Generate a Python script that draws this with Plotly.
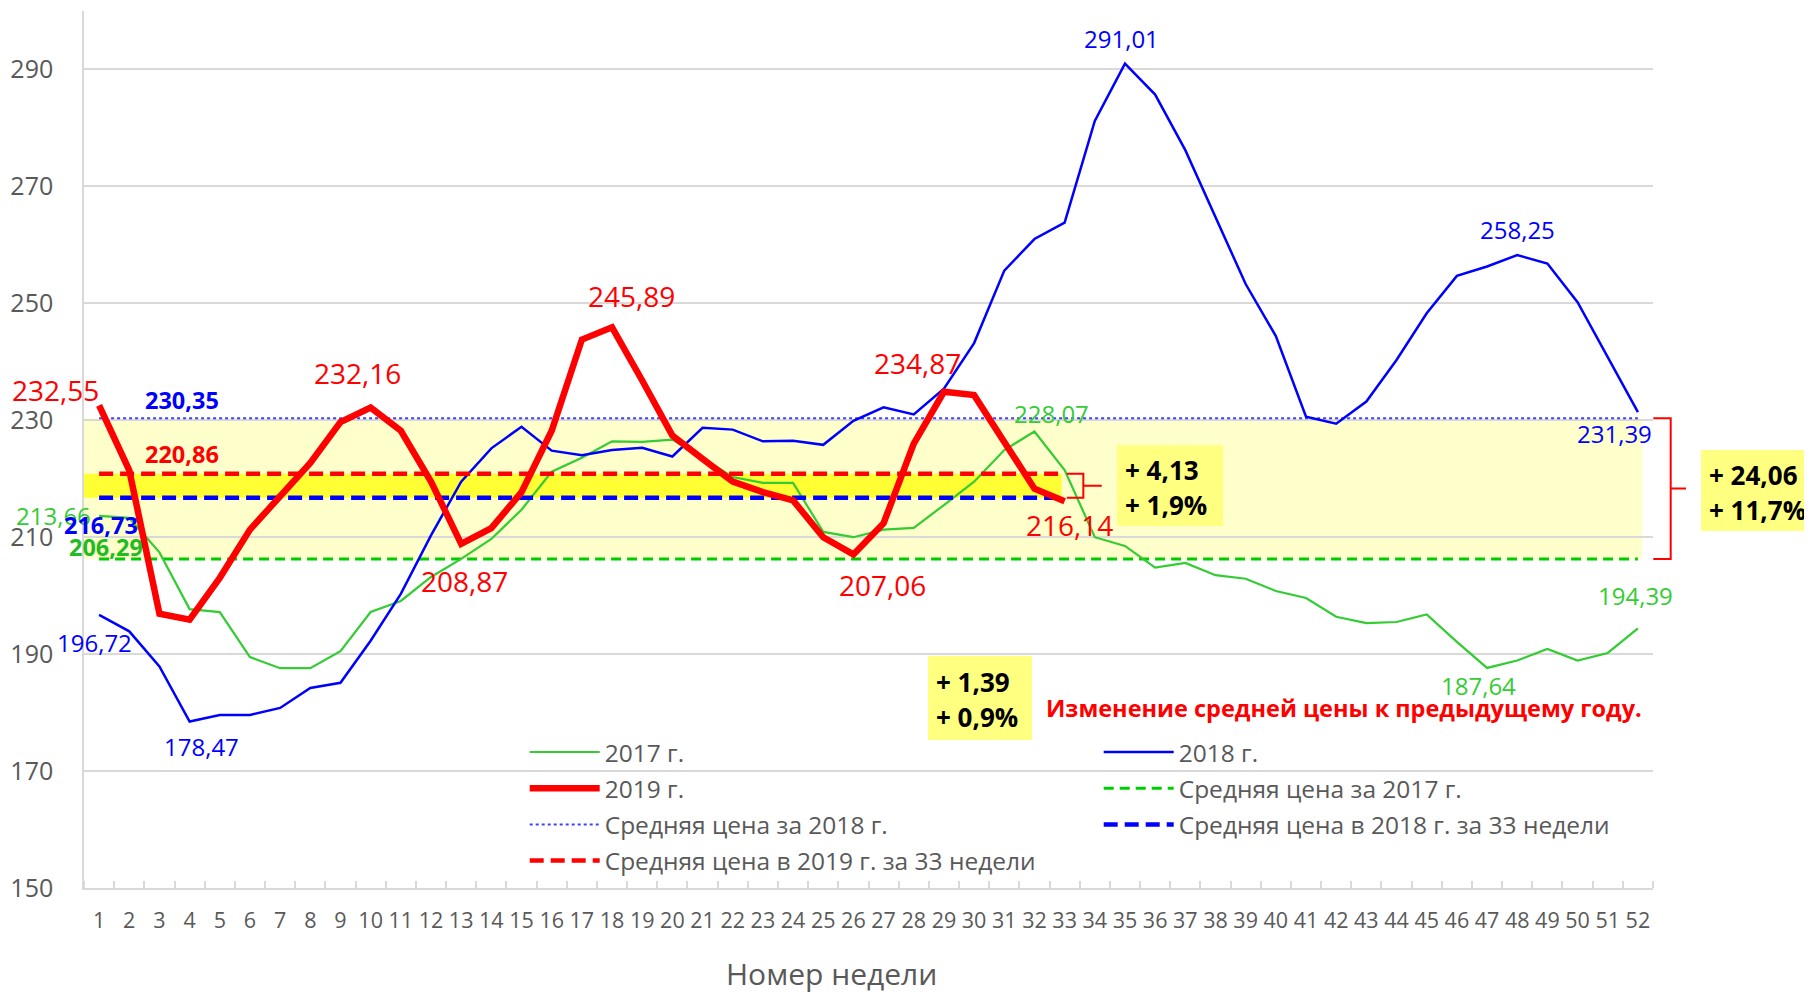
import plotly.graph_objects as go

# ---------------- data ----------------
weeks = list(range(1, 53))
weeks_2019 = list(range(1, 34))

price_2017 = [213.66, 213.3, 207.4, 197.7, 197.2, 189.5, 187.6, 187.6, 190.5, 197.2,
              199.1, 203.2, 206.3, 209.7, 214.7, 221.2, 223.6, 226.4, 226.3, 226.7,
              223.5, 220.3, 219.3, 219.3, 210.9, 210.0, 211.3, 211.6, 215.5, 219.5,
              224.9, 228.07, 221.5, 210.0, 208.5, 204.8, 205.6, 203.5, 202.9, 200.8,
              199.6, 196.4, 195.3, 195.5, 196.8, 192.1, 187.64, 188.9, 190.9, 188.9,
              190.2, 194.39]
price_2018 = [196.72, 193.9, 187.9, 178.47, 179.6, 179.6, 180.8, 184.2, 185.1, 192.3,
              200.3, 210.3, 219.5, 225.2, 228.9, 224.8, 224.0, 224.9, 225.3, 223.8,
              228.7, 228.4, 226.4, 226.5, 225.8, 229.9, 232.2, 231.0, 235.4, 243.2,
              255.6, 261.0, 263.8, 281.2, 291.01, 285.7, 276.2, 264.8, 253.3, 244.4,
              230.6, 229.4, 233.2, 240.3, 248.3, 254.7, 256.3, 258.25, 256.8, 250.2,
              240.7, 231.39]
price_2019 = [232.55, 221.45, 196.9, 195.9, 203.05, 211.3, 217.0, 222.7, 229.7, 232.16,
              228.2, 219.5, 208.87, 211.55, 217.7, 228.2, 243.8, 245.89, 236.8, 227.4,
              223.4, 219.5, 217.7, 216.3, 210.0, 207.06, 212.4, 226.0, 234.87, 234.3,
              226.3, 218.3, 216.14]

avg_2017 = 206.29
avg_2018 = 230.35
avg_2018_33 = 216.73
avg_2019_33 = 220.86

names = ["2017 г.", "2018 г.", "2019 г.", "Средняя цена за 2017 г.",
         "Средняя цена за 2018 г.", "Средняя цена в 2018 г. за 33 недели",
         "Средняя цена в 2019 г. за 33 недели"]
y_ticks = [150, 170, 190, 210, 230, 250, 270, 290]
x_title = "Номер недели"
note_text = "Изменение средней цены к предыдущему году."
box_c_lines = ["+ 1,39", "+ 0,9%"]

# labelled points: (week, xshift, yshift)
labels_2019 = [(1, -44, 15), (10, -13, 35), (18, 19, 31), (13, 3, -37),
               (26, 29, -31), (29, -26, 29), (33, 5, -24)]
labels_2018 = [(35, -3, 25), (48, 0, 26), (52, -23, -21), (4, 12, -25), (1, -5, -28)]
labels_2017 = [(1, -46, 0), (32, 17, 18), (47, -9, -18), (52, -2, 33)]

# ---------------- layout helpers ----------------
PAGE_W, PAGE_H = 1812, 994
OFF = 8                      # default page body margin
FIG_W, FIG_H = PAGE_W - OFF, PAGE_H - OFF
L_PAGE, T_PAGE = 84, 11
L, T = L_PAGE - OFF, T_PAGE - OFF
R, B = 159, 106
W = FIG_W - L - R
H = FIG_H - T - B


def px_x(X):
    """page pixel x -> paper fraction"""
    return (X - L_PAGE) / W


def px_y(Y):
    """page pixel y -> paper fraction"""
    return (PAGE_H - B - Y) / H


def fmt(v):
    return f"{v:.2f}".replace(".", ",")


FONT = "Open Sans"
GREY = "#595959"
RED = "#FF0000"
BLUE = "#0000FF"
GREEN = "#33CC33"

fig = go.Figure()

# average lines
fig.add_trace(go.Scatter(x=weeks, y=[avg_2018] * len(weeks), mode="lines", name=names[4],
                         line=dict(color="#4040FF", width=2, dash="dot"),
                         legend="legend", legendgroup="g5", legendrank=3))
fig.add_trace(go.Scatter(x=weeks, y=[avg_2017] * len(weeks), mode="lines", name=names[3],
                         line=dict(color="#00CC00", width=3, dash="10px,6px"),
                         legend="legend2", legendgroup="g4", legendrank=2))
# yearly series
fig.add_trace(go.Scatter(x=weeks, y=price_2017, mode="lines", name=names[0],
                         line=dict(color=GREEN, width=2.2),
                         legend="legend", legendgroup="g1", legendrank=1))
fig.add_trace(go.Scatter(x=weeks, y=price_2018, mode="lines", name=names[1],
                         line=dict(color=BLUE, width=2.5),
                         legend="legend2", legendgroup="g2", legendrank=1))
fig.add_trace(go.Scatter(x=weeks_2019, y=[avg_2018_33] * len(weeks_2019), mode="lines",
                         name=names[5], line=dict(color=BLUE, width=4.5, dash="14px,7px"),
                         legend="legend2", legendgroup="g6", legendrank=3))
fig.add_trace(go.Scatter(x=weeks_2019, y=[avg_2019_33] * len(weeks_2019), mode="lines",
                         name=names[6], line=dict(color=RED, width=4.5, dash="14px,7px"),
                         legend="legend", legendgroup="g7", legendrank=4))
fig.add_trace(go.Scatter(x=weeks_2019, y=price_2019, mode="lines", name=names[2],
                         line=dict(color=RED, width=6.5),
                         legend="legend", legendgroup="g3", legendrank=2))

# ---------------- shapes ----------------
shapes = []
shapes.append(dict(type="rect", xref="x", yref="y", x0=0.5, x1=52.15,
                   y0=avg_2017, y1=avg_2018, fillcolor="#FFFFCC",
                   line=dict(width=0), layer="below"))
shapes.append(dict(type="rect", xref="x", yref="y", x0=0.5, x1=32.9,
                   y0=avg_2018_33, y1=avg_2019_33, fillcolor="#FFFF33",
                   line=dict(width=0), layer="below"))
ym = (avg_2018_33 + avg_2019_33) / 2
shapes.append(dict(type="path", xref="x", yref="y",
                   path=(f"M 33.07,{avg_2019_33} L 33.62,{avg_2019_33} L 33.62,{avg_2018_33} "
                         f"L 33.07,{avg_2018_33} M 33.62,{ym} L 34.23,{ym}"),
                   line=dict(color=RED, width=2)))
ym2 = (avg_2017 + avg_2018) / 2
xa, xb, xc = px_x(1653.3), px_x(1670.7), px_x(1686)
shapes.append(dict(type="path", xref="paper", yref="y",
                   path=(f"M {xa},{avg_2018} L {xb},{avg_2018} L {xb},{avg_2017} "
                         f"L {xa},{avg_2017} M {xb},{ym2} L {xc},{ym2}"),
                   line=dict(color=RED, width=2)))
for (x0, x1, y0, y1) in [(1117, 1223, 445, 526), (1701, 1812, 450, 531), (928, 1032, 656, 740)]:
    shapes.append(dict(type="rect", xref="paper", yref="paper",
                       x0=px_x(x0), x1=px_x(x1), y0=px_y(y1), y1=px_y(y0),
                       fillcolor="#FFFF80", line=dict(width=0), layer="above"))

# ---------------- annotations ----------------
ann = []


def data_label(x, y, text, color, size, dx, dy, bold=False):
    t = f"<b>{text}</b>" if bold else text
    ann.append(dict(x=x, y=y, xref="x", yref="y", text=t, showarrow=False,
                    xshift=dx, yshift=dy, xanchor="center", yanchor="middle",
                    font=dict(family=FONT, size=size, color=color)))


for w, dx, dy in labels_2017:
    data_label(w, price_2017[w - 1], fmt(price_2017[w - 1]), GREEN, 24, dx, dy)
for w, dx, dy in labels_2018:
    data_label(w, price_2018[w - 1], fmt(price_2018[w - 1]), BLUE, 24, dx, dy)
for w, dx, dy in labels_2019:
    data_label(w, price_2019[w - 1], fmt(price_2019[w - 1]), RED, 28, dx, dy)

data_label(1, avg_2018, fmt(avg_2018), BLUE, 23.5, 83, 18, bold=True)
data_label(1, avg_2019_33, fmt(avg_2019_33), RED, 23.5, 83, 20, bold=True)
data_label(1, avg_2017, fmt(avg_2017), "#22BB22", 23.5, 7, 12, bold=True)
data_label(1, avg_2018_33, fmt(avg_2018_33), BLUE, 23.5, 2, -27, bold=True)

d_33 = avg_2019_33 - avg_2018_33
d_year = avg_2018 - avg_2017
box_a = [f"+ {fmt(d_33)}", f"+ {d_33 / avg_2018_33 * 100:.1f}%".replace(".", ",")]
box_b = [f"+ {fmt(d_year)}", f"+ {d_year / avg_2017 * 100:.1f}%".replace(".", ",")]
for lines, X, Ys in [(box_a, 1123, (470, 505)), (box_b, 1707, (475, 510)),
                     (box_c_lines, 934, (682, 717))]:
    for txt, Y in zip(lines, Ys):
        ann.append(dict(x=px_x(X), y=px_y(Y), xref="paper", yref="paper",
                        text=f"<b>{txt}</b>", showarrow=False, xanchor="left",
                        yanchor="middle", font=dict(family=FONT, size=26, color="black")))

ann.append(dict(x=px_x(1344), y=px_y(708), xref="paper", yref="paper",
                text=f"<b>{note_text}</b>", showarrow=False, xanchor="center",
                yanchor="middle", font=dict(family=FONT, size=23.5, color=RED)))
ann.append(dict(x=px_x(831), y=px_y(974), xref="paper", yref="paper",
                text=x_title, showarrow=False, xanchor="center", yanchor="middle",
                font=dict(family=FONT, size=30, color=GREY)))

LEG_FS = 24.5
ITEM_W = 70
item_h = LEG_FS * 1.3 + 3
legend_common = dict(orientation="v", xanchor="left", yanchor="top",
                     bgcolor="rgba(0,0,0,0)", borderwidth=0,
                     tracegroupgap=max(36.2 - item_h, 0),
                     itemwidth=ITEM_W, traceorder="grouped",
                     font=dict(family=FONT, size=LEG_FS, color=GREY))
text_gap = ITEM_W + 10
leg_top = px_y(752 - 5 - item_h / 2)

fig.update_layout(
    width=FIG_W, height=FIG_H,
    margin=dict(l=L, r=R, t=T, b=B, autoexpand=False),
    paper_bgcolor="white", plot_bgcolor="white",
    font=dict(family=FONT, color=GREY),
    showlegend=True,
    legend=dict(x=px_x(604.7 - text_gap), y=leg_top, **legend_common),
    legend2=dict(x=px_x(1178.7 - text_gap), y=leg_top, **legend_common),
    xaxis=dict(range=[0.5, 52.5], tickmode="array", tickvals=weeks,
               ticktext=[str(w) for w in weeks], ticks="", showgrid=False,
               zeroline=False, showline=True, linecolor="#D9D9D9", linewidth=1.5,
               tickfont=dict(family=FONT, size=21.5, color=GREY),
               ticklabelstandoff=12,
               minor=dict(tickmode="linear", tick0=0.5, dtick=1, ticks="inside",
                          ticklen=7, tickcolor="#D9D9D9", tickwidth=1.5, showgrid=False)),
    yaxis=dict(range=[150, 300], tickmode="array", tickvals=y_ticks,
               ticktext=[str(v) for v in y_ticks], ticks="",
               showgrid=True, gridcolor="#D9D9D9", gridwidth=1.5, zeroline=False,
               showline=True, linecolor="#D9D9D9", linewidth=1.5,
               tickfont=dict(family=FONT, size=25, color=GREY),
               ticklabelstandoff=24),
    shapes=shapes,
    annotations=ann,
)

fig.write_html("out.html")
